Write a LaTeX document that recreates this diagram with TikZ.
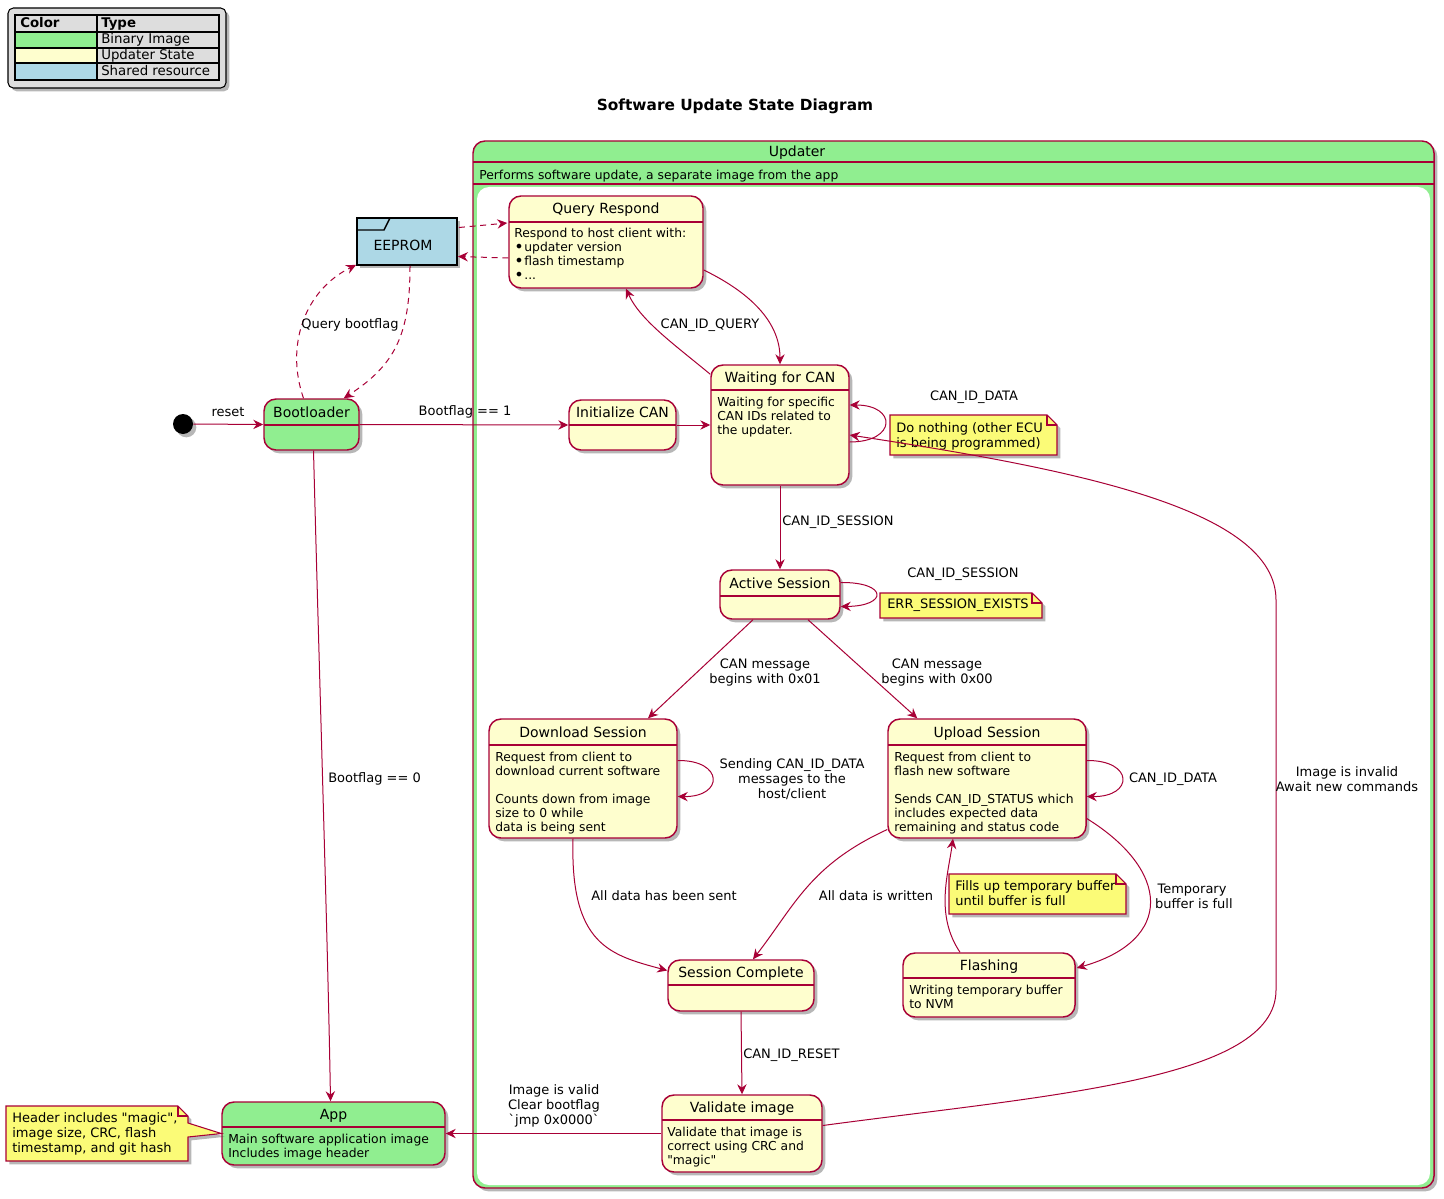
\documentclass[tikz,border=0pt]{standalone}
\usepackage{fontspec}
\setmainfont{DejaVu Sans}[Ligatures=TeXOff]
\usetikzlibrary{arrows.meta,shadows,fit,calc}
\definecolor{crim}{HTML}{A80036}
\definecolor{stfill}{HTML}{FEFECE}
\definecolor{lgreen}{HTML}{90EE90}
\definecolor{lblue}{HTML}{ADD8E6}
\definecolor{notefill}{HTML}{FBFB77}
\definecolor{legfill}{HTML}{DDDDDD}
\tikzset{
  shad/.style={drop shadow={shadow xshift=2.5pt,shadow yshift=-2.5pt,opacity=0.4,fill=black!70}},
  stbox/.style={draw=crim,line width=1.1pt,rounded corners=9pt,inner sep=0pt,shad},
  stbrd/.style={draw=crim,line width=0.8pt},
  sttitle/.style={font=\fontsize{10.5}{12}\selectfont,inner sep=0pt,anchor=base},
  body/.style={font=\fontsize{9.25}{10.5}\selectfont,inner sep=0pt,align=left,anchor=north west},
  notetxt/.style={font=\fontsize{9.75}{11.25}\selectfont,inner sep=0pt,align=left,anchor=north west},
  lab/.style={font=\fontsize{9.75}{11.25}\selectfont,inner sep=0pt,align=center},
  con/.style={draw=crim,line width=0.75pt,-{Stealth[length=7.5pt,width=7pt,inset=2.5pt]}},
  dcon/.style={con,dash pattern=on 4.5pt off 3.5pt},
  notebox/.style={draw=crim,line width=0.8pt,fill=notefill,shad},
  leg/.style={font=\fontsize{10}{12}\selectfont,inner sep=0pt,anchor=base west},
}
\newcommand\bul{{\fontsize{12}{10}\selectfont\raisebox{-0.3pt}{•}}\hspace{0.5pt}}
\newcommand\mkstate[8]{%
  \node[stbox,fill=#7,fit={(#2,#3) (#4,#5)}] (#1) {};
  \draw[stbrd] (#2,#6) -- (#4,#6);
  \node[sttitle] (#1-t) at ({(#2+#4)/2},{(#3+#6)/2+5}) {#8};
}
\newcommand\mknote[5]{%
  \node[fit={(#2,#3) (#4,#5)},inner sep=0pt] (#1) {};
  \draw[notebox] (#2,#3) -- ({#4-10},#3) -- (#4,{#3+10}) -- (#4,#5) -- (#2,#5) -- cycle;
  \draw[draw=crim,line width=0.8pt] ({#4-10},#3) -- ({#4-10},{#3+10}) -- (#4,{#3+10});
}
\begin{document}
\begin{tikzpicture}[x=0.75pt,y=-0.75pt]
\useasboundingbox (0,0) rectangle (1444,1198);

% legend
\node[fit={(8,8) (226,88)},inner sep=0pt,draw=black,line width=0.8pt,fill=legfill,rounded corners=4pt,shad] (legend) {};
\fill[lgreen] (15,32) rectangle (97,48);
\fill[stfill] (15,48) rectangle (97,63);
\fill[lblue] (15,63) rectangle (97,80);
\draw[black,line width=1.1pt] (15,15) rectangle (219,80);
\draw[black,line width=1.1pt] (97,15) -- (97,80) (15,32) -- (219,32) (15,48) -- (219,48) (15,63) -- (219,63);
\node[leg,font=\fontsize{10}{12}\selectfont\bfseries] (lc) at (20,28) {Color};
\node[leg,font=\fontsize{10}{12}\selectfont\bfseries] (lt) at (101,28) {Type};
\node[leg] (l1) at (101,44) {Binary Image};
\node[leg] (l2) at (101,60) {Updater State};
\node[leg] (l3) at (101,76) {Shared resource};

% title
\node[font=\fontsize{11.5}{14}\selectfont\bfseries,inner sep=0pt] (title) at (735,106) {Software Update State Diagram};

% updater container
\node[fit={(473,141) (1434,1188)},inner sep=0pt,draw=crim,line width=1.1pt,fill=lgreen,rounded corners=9pt,shad] (upd) {};
\fill[white,rounded corners=9pt] (477,187) rectangle (1430,1185);
\draw[stbrd] (473,162) -- (1434,162);
\draw[stbrd] (473,184) -- (1434,184);
\node[sttitle] (upd-t) at (797,157) {Updater};
\node[body,anchor=base west] (upd-d) at (479,180) {Performs software update, a separate image from the app};

% EEPROM
\node[fit={(357,218) (457,265)},inner sep=0pt,draw=black,line width=1.4pt,fill=lblue,shad] (ee) {};
\draw[black,line width=1.1pt] (357,230) -- (384,230) -- (390,218);
\node[sttitle] (ee-t) at (403,251) {EEPROM};

% start
\node[circle,fill=black,minimum size=15pt,inner sep=0pt,shad] (start) at (183,424) {};

% states
\mkstate{boot}{264}{399}{359}{450}{425}{lgreen}{Bootloader}
\mkstate{qr}{509}{196}{703}{288}{222}{stfill}{Query Respond}
\node[body] (qr-b) at (514,228) {Respond to host client with:\\\bul updater version\\\bul flash timestamp\\\bul ...};
\mkstate{init}{569}{400}{676}{450}{425}{stfill}{Initialize CAN}
\mkstate{wait}{711}{365}{849}{485}{390}{stfill}{Waiting for CAN}
\node[body] (wait-b) at (717,397) {Waiting for specific\\CAN IDs related to\\the updater.};
\mkstate{act}{720}{570}{840}{619}{596}{stfill}{Active Session}
\mkstate{dl}{489}{719}{677}{838}{745}{stfill}{Download Session}
\node[body] (dl-b) at (495,752) {Request from client to\\download current software\\[10.5pt]Counts down from image\\size to 0 while\\data is being sent};
\mkstate{ul}{888}{719}{1086}{838}{745}{stfill}{Upload Session}
\node[body] (ul-b) at (894,752) {Request from client to\\flash new software\\[10.5pt]Sends CAN\_ID\_STATUS which\\includes expected data\\remaining and status code};
\mkstate{sc}{668}{960}{814}{1011}{985}{stfill}{Session Complete}
\mkstate{fl}{903}{953}{1075}{1017}{978}{stfill}{Flashing}
\node[body] (fl-b) at (909,985) {Writing temporary buffer\\to NVM};
\mkstate{val}{662}{1095}{822}{1172}{1120}{stfill}{Validate image}
\node[body] (val-b) at (667,1127) {Validate that image is\\correct using CRC and\\"magic"};
\mkstate{app}{222}{1102}{445}{1165}{1127}{lgreen}{App}
\node[body] (app-b) at (228,1134) {Main software application image\\Includes image header};

% notes
\mknote{n1}{890}{415}{1057}{455}
\node[notetxt] (n1-t) at (896,422) {Do nothing (other ECU\\is being programmed)};
\mknote{n2}{880}{593}{1042}{618}
\node[notetxt] (n2-t) at (887,599) {ERR\_SESSION\_EXISTS};
\mknote{n3}{949}{874}{1126}{914}
\node[notetxt] (n3-t) at (955,880) {Fills up temporary buffer\\until buffer is full};
\node[fit={(6,1106) (188,1161)},inner sep=0pt] (n4) {};
\draw[notebox] (6,1106) -- (178,1106) -- (188,1116) -- (188,1123) -- (app.west) -- (188,1137) -- (188,1161) -- (6,1161) -- cycle;
\draw[draw=crim,line width=0.8pt] (178,1106) -- (178,1116) -- (188,1116);
\node[notetxt] (n4-t) at (12,1112) {Header includes "magic",\\image size, CRC, flash\\timestamp, and git hash};

% connectors
\draw[con] (start.east) -- (boot.west);
\node[lab] (l-reset) at (228,412) {reset};
\draw[con] (boot.east) -- (init.west);
\node[lab] (l-b1) at (465,412) {Bootflag == 1};
\draw[con] (init.east) -- (wait.west);

\draw[dcon] ($(boot.north)+(-8,0)$) .. controls (285,345) and (305,290) .. ($(ee.south west)+(0,-1)$);
\node[lab] (l-qb) at (350,325) {Query bootflag};
\draw[dcon] ($(ee.south)+(3,0)$) .. controls (410,335) and (395,365) .. ($(boot.north east)+(-16,0)$);
\draw[dcon] ($(ee.east)+(1,-14)$) -- ($(qr.west)+(-1,-19)$);
\draw[dcon] ($(qr.west)+(0,16)$) -- ($(ee.east)+(0,15)$);

\draw[con] ($(wait.north west)+(0,10)$) .. controls (675,345) and (640,320) .. ($(qr.south)+(20,0)$);
\node[lab] (l-q) at (710,325) {CAN\_ID\_QUERY};
\draw[con] ($(qr.east)+(0,28)$) .. controls (755,295) and (780,325) .. (wait.north);

\draw[con] ($(wait.east)+(0,17)$) .. controls (897,442) and (897,405) .. ($(wait.east)+(0,-20)$);
\node[lab] (l-d1) at (974,397) {CAN\_ID\_DATA};

\draw[con] (wait.south) -- (act.north);
\node[lab,anchor=west] (l-s1) at (782,522) {CAN\_ID\_SESSION};

\draw[con] ($(act.east)+(0,-12)$) .. controls (888,582) and (888,606) .. ($(act.east)+(0,12)$);
\node[lab] (l-s2) at (963,574) {CAN\_ID\_SESSION};

\draw[con] ($(act.south)+(-27,0)$) -- ($(dl.north)+(65,0)$);
\node[lab] (l-m1) at (765,673) {CAN message\\begins with 0x01};
\draw[con] ($(act.south)+(28,0)$) -- ($(ul.north west)+(30,0)$);
\node[lab] (l-m0) at (937,673) {CAN message\\begins with 0x00};

\draw[con] ($(dl.east)+(0,-18)$) .. controls (724,760) and (724,797) .. ($(dl.east)+(0,18)$);
\node[lab] (l-send) at (792,779) {Sending CAN\_ID\_DATA\\messages to the\\host/client};
\draw[con] ($(ul.east)+(0,-18)$) .. controls (1134,760) and (1134,797) .. ($(ul.east)+(0,18)$);
\node[lab] (l-d2) at (1173,779) {CAN\_ID\_DATA};

\draw[con] ($(dl.south)+(-10,0)$) .. controls (570,945) and (610,955) .. ($(sc.west)+(0,-15)$);
\node[lab] (l-sent) at (664,896) {All data has been sent};
\draw[con] ($(ul.west)+(0,51)$) .. controls (810,865) and (795,905) .. ($(sc.north)+(12,0)$);
\node[lab] (l-wr) at (876,896) {All data is written};
\draw[con] ($(ul.east)+(0,40)$) .. controls (1170,870) and (1175,940) .. ($(fl.east)+(1,-17)$);
\node[lab] (l-tb) at (1192,896) {Temporary\\\hspace*{0.3em}buffer is full};
\draw[con] ($(fl.north)+(-29,0)$) .. controls (935,915) and (948,875) .. ($(ul.south)+(-34,0)$);

\draw[con] (sc.south) -- (val.north);
\node[lab,anchor=west] (l-rst) at (743,1055) {CAN\_ID\_RESET};

\draw[con] (val.west) -- (app.east);
\node[lab] (l-ok) at (554,1106) {Image is valid\\Clear bootflag\\`jmp 0x0000`};

\draw[con] ($(val.east)+(0,-8)$) .. controls (1050,1095) and (1276,1080) .. (1276,990) -- (1276,600) .. controls (1276,510) and (1080,470) .. ($(wait.east)+(0,10)$);
\node[lab] (l-bad) at (1347,779) {Image is invalid\\Await new commands};

\draw[con] ($(boot.south)+(2,0)$) .. controls (320,700) and (328,950) .. ($(app.north)+(-3,0)$);
\node[lab,anchor=west] (l-b0) at (328,779) {Bootflag == 0};

\end{tikzpicture}
\end{document}
